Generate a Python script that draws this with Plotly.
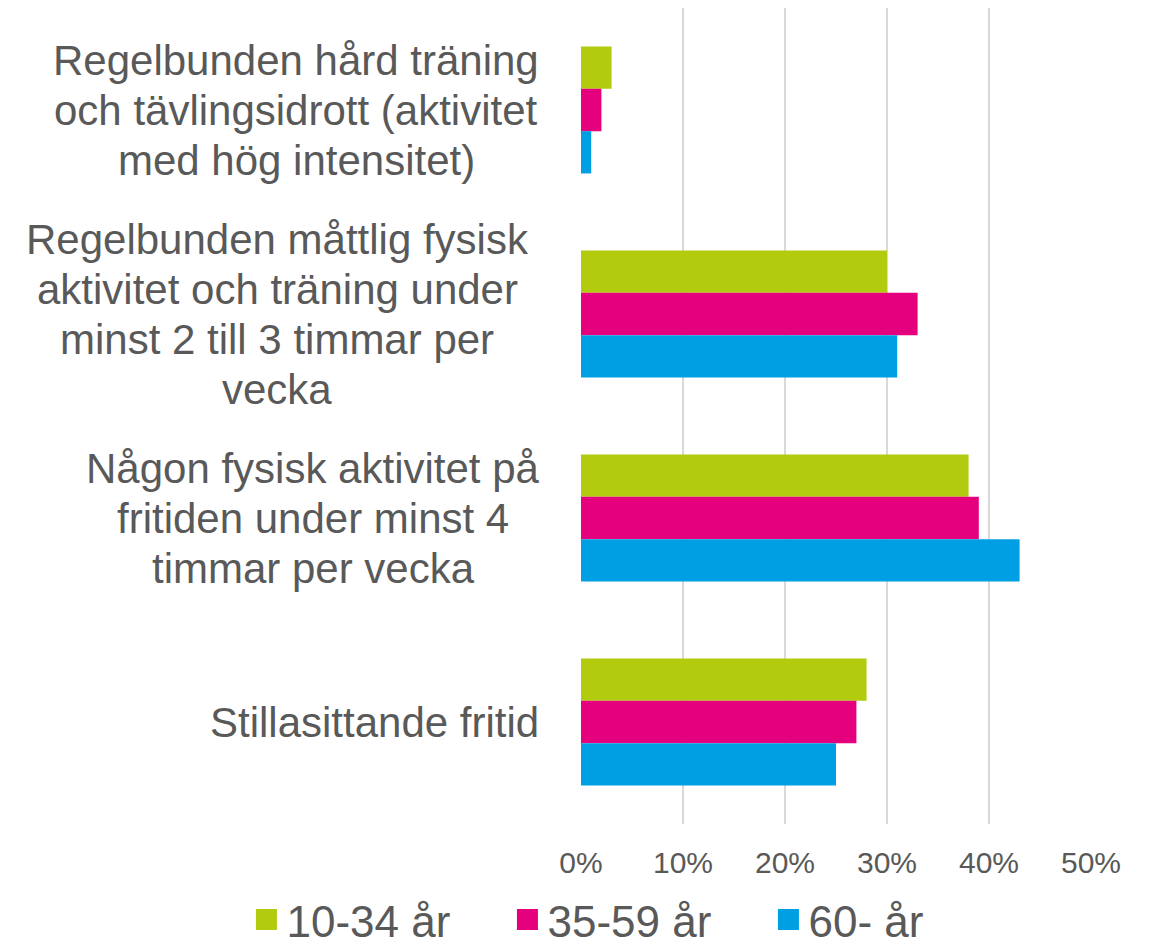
import plotly.graph_objects as go

category_lines = [
    ["Regelbunden hård träning", "och tävlingsidrott (aktivitet", "med hög intensitet)"],
    ["Regelbunden måttlig fysisk", "aktivitet och träning under", "minst 2 till 3 timmar per", "vecka"],
    ["Någon fysisk aktivitet på", "fritiden under minst 4", "timmar per vecka"],
    ["Stillasittande fritid"],
]
cat_keys = ["c1", "c2", "c3", "c4"]
series_names = ["10-34 år", "35-59 år", "60- år"]
vals_10_34 = [3, 30, 38, 28]
vals_35_59 = [2, 33, 39, 27]
vals_60 = [1, 31, 43, 25]
colors = ["#B2CB0E", "#E5007E", "#009FE3"]
tick_vals = [0, 10, 20, 30, 40, 50]
tick_text = ["0%", "10%", "20%", "30%", "40%", "50%"]

FONT = "Liberation Sans, Arial, sans-serif"
GRAY = "#595959"
LINE_STEP = 50
PLOT_L, PLOT_W = 581, 510
# horizontal centre (page px) of each category's label block
label_centres = [296, 277, 313, 374]

fig = go.Figure()
for name, vals, col in zip(series_names, [vals_10_34, vals_35_59, vals_60], colors):
    fig.add_trace(go.Bar(
        y=cat_keys, x=vals, name=name, orientation="h",
        marker=dict(color=col, line=dict(width=0)),
        hoverinfo="x+name", showlegend=False,
    ))
# legend entries (larger square swatches)
for name, col in zip(series_names, colors):
    fig.add_trace(go.Scatter(
        x=[None], y=[None], mode="markers", name=name,
        marker=dict(symbol="square", size=16, color=col, line=dict(width=5, color=col)),
        showlegend=True, hoverinfo="skip",
    ))

for key, lines, cx in zip(cat_keys, category_lines, label_centres):
    n = len(lines)
    for j, line in enumerate(lines):
        offset = (j - (n - 1) / 2) * LINE_STEP
        fig.add_annotation(
            x=(cx - PLOT_L) / PLOT_W, xref="paper", y=key, yref="y", yshift=-offset,
            text=line, showarrow=False, xanchor="center", yanchor="middle",
            align="center", font=dict(family=FONT, size=42, color=GRAY),
        )

fig.update_layout(
    width=1145, height=942,
    margin=dict(l=573, r=62, t=0, b=126, autoexpand=False),
    paper_bgcolor="white", plot_bgcolor="white",
    barmode="group", bargap=0.378, bargroupgap=0,
    font=dict(family=FONT, color=GRAY),
    xaxis=dict(
        range=[0, 50], tickvals=tick_vals, ticktext=tick_text,
        showgrid=True, gridcolor="#D9D9D9", gridwidth=2,
        zeroline=False, showline=False, ticks="",
        tickfont=dict(family=FONT, size=30, color=GRAY),
        ticklabelstandoff=18,
    ),
    yaxis=dict(
        autorange="reversed", showticklabels=False, showgrid=False,
        zeroline=False, showline=False, ticks="", type="category",
    ),
    legend=dict(
        orientation="h", xref="paper", yref="paper",
        x=-0.656, xanchor="left", y=-0.1176, yanchor="middle",
        font=dict(family=FONT, size=44, color=GRAY),
        entrywidth=216, tracegroupgap=0, bgcolor="rgba(0,0,0,0)",
    ),
)

fig.write_html("out.html")
